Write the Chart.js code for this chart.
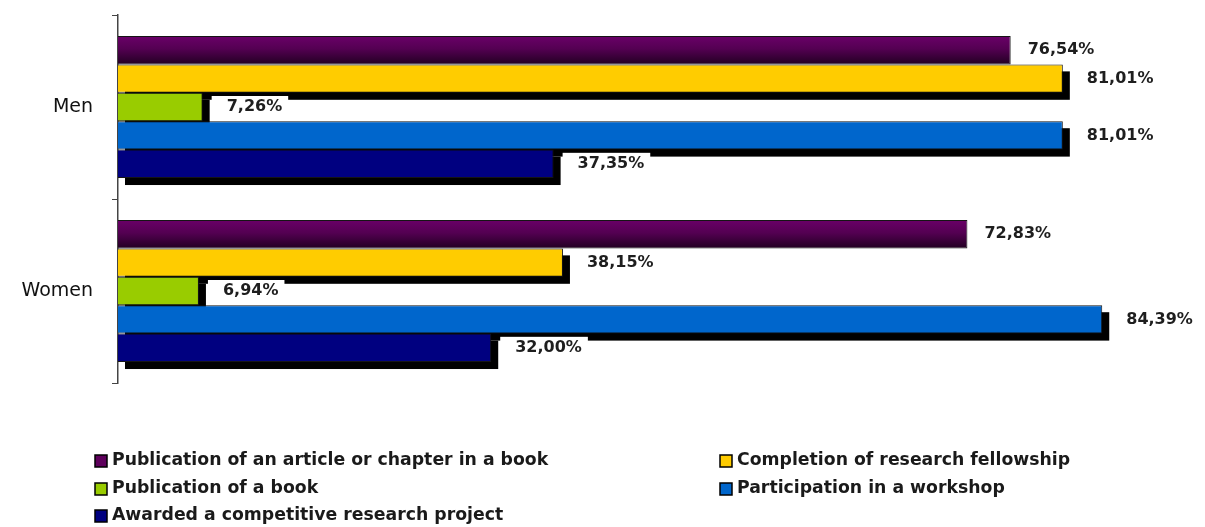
<!DOCTYPE html>
<html>
<head>
<meta charset="utf-8">
<script src="https://cdn.jsdelivr.net/npm/chart.js@4.4.1/dist/chart.umd.min.js"></script>
<style>
  html, body { margin: 0; padding: 0; background: #ffffff; }
  #wrap { position: relative; width: 1205px; height: 527px; }
</style>
</head>
<body>
<div id="wrap"><canvas id="c" width="1205" height="527"></canvas></div>
<script>
// ---- Data ----
const categories = ['Men', 'Women'];
const seriesNames = [
  'Publication of an article or chapter in a book',
  'Completion of research fellowship',
  'Publication of a book',
  'Participation in a workshop',
  'Awarded a competitive research project'
];
const articleValues    = [76.54, 72.83];
const fellowshipValues = [81.01, 38.15];
const bookValues       = [7.26, 6.94];
const workshopValues   = [81.01, 84.39];
const projectValues    = [37.35, 32.00];
const seriesColors = ['#5e005c', '#ffcc00', '#99cc00', '#0066cc', '#000080'];

const seriesValues = [articleValues, fellowshipValues, bookValues, workshopValues, projectValues];

const FONT = 'DejaVu Sans';
// drop-shadow offset per series (the gradient series has none)
const SHADOW = [0, 7, 7, 7, 7];

// Gradient for the first (purple) series
const gradientPlugin = {
  id: 'purpleGradient',
  beforeDatasetsDraw(chart) {
    const ctx = chart.ctx;
    const meta = chart.getDatasetMeta(0);
    meta.data.forEach(el => {
      const p = el.getProps(['y', 'height'], true);
      const g = ctx.createLinearGradient(0, p.y - p.height / 2, 0, p.y + p.height / 2);
      g.addColorStop(0, '#6a0068');
      g.addColorStop(0.45, '#540052');
      g.addColorStop(1, '#220022');
      el.options = Object.assign({}, el.options, { backgroundColor: g });
    });
  }
};

// Black drop shadows under bars
const shadowPlugin = {
  id: 'barShadow',
  beforeDatasetsDraw(chart) {
    const ctx = chart.ctx;
    ctx.save();
    ctx.fillStyle = '#000000';
    chart.data.datasets.forEach((ds, i) => {
      const off = SHADOW[i];
      if (!off) return;
      const meta = chart.getDatasetMeta(i);
      meta.data.forEach(el => {
        const p = el.getProps(['x', 'y', 'base', 'height'], true);
        const left = Math.min(p.base, p.x) + off;
        const right = Math.max(p.base, p.x) + off;
        ctx.fillRect(left, p.y - p.height / 2 + off, right - left, p.height);
      });
    });
    ctx.restore();
  }
};

// Value labels with white box
const labelPlugin = {
  id: 'valueLabels',
  afterDatasetsDraw(chart) {
    const ctx = chart.ctx;
    ctx.save();
    ctx.font = 'bold 16px "' + FONT + '"';
    ctx.textBaseline = 'middle';
    ctx.textAlign = 'left';
    chart.data.datasets.forEach((ds, i) => {
      const meta = chart.getDatasetMeta(i);
      meta.data.forEach((el, j) => {
        const v = ds.data[j];
        const txt = v.toFixed(2).replace('.', ',') + '%';
        const p = el.getProps(['x', 'y'], true);
        const tw = ctx.measureText(txt).width;
        const sh = SHADOW[i];
        const tx = p.x + sh + 17;
        const bx = p.x + sh + 2;
        ctx.fillStyle = '#ffffff';
        ctx.fillRect(bx, p.y - 11, tx + tw + 6 - bx, 22);
        ctx.fillStyle = '#1e1e1e';
        ctx.fillText(txt, tx, p.y);
      });
    });
    ctx.restore();
  }
};

// Two-column legend at the bottom
const legendPlugin = {
  id: 'twoColLegend',
  afterDraw(chart) {
    const ctx = chart.ctx;
    const colX = [95, 720];
    const rowY = [461, 489, 516];
    ctx.save();
    ctx.font = 'bold 17.3px "' + FONT + '"';
    ctx.textBaseline = 'middle';
    ctx.textAlign = 'left';
    chart.data.datasets.forEach((ds, i) => {
      const x = colX[i % 2];
      const y = rowY[Math.floor(i / 2)];
      ctx.fillStyle = seriesColors[i];
      ctx.fillRect(x, y - 6, 12, 12);
      ctx.strokeStyle = '#000000';
      ctx.lineWidth = 1.5;
      ctx.strokeRect(x, y - 6, 12, 12);
      ctx.fillStyle = '#1a1a1a';
      ctx.fillText(ds.label, x + 17, y);
    });
    ctx.restore();
  }
};

const datasets = seriesNames.map((name, i) => ({
  label: name,
  data: seriesValues[i],
  backgroundColor: seriesColors[i],
  borderColor: '#151515',
  borderWidth: 1,
  barPercentage: 1.0,
  categoryPercentage: 0.772
}));

new Chart(document.getElementById('c'), {
  type: 'bar',
  data: { labels: categories, datasets: datasets },
  options: {
    indexAxis: 'y',
    responsive: false,
    maintainAspectRatio: false,
    animation: false,
    layout: { padding: { top: 15, bottom: 144, left: 0, right: 14 } },
    plugins: { legend: { display: false }, tooltip: { enabled: false } },
    scales: {
      x: { display: false, min: 0, max: 92 },
      y: {
        afterFit(s) { s.width = 118; s.paddingTop = 0; s.paddingBottom = 0; },
        border: { display: true, color: '#444444', width: 1.5 },
        grid: { display: true, drawOnChartArea: false, drawTicks: true, tickLength: 6, color: '#444444', offset: true },
        ticks: { padding: 19, color: '#111111', font: { family: FONT, size: 19 } }
      }
    }
  },
  plugins: [gradientPlugin, shadowPlugin, labelPlugin, legendPlugin]
});
</script>
</body>
</html>
